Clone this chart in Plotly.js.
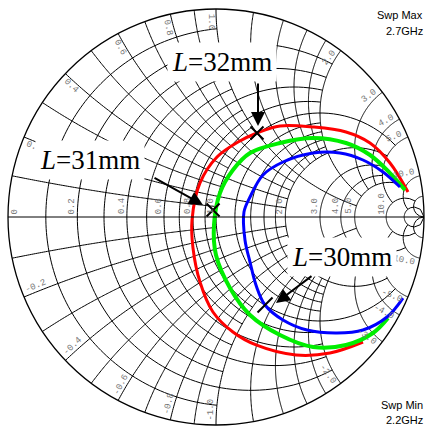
<!DOCTYPE html>
<html><head><meta charset="utf-8">
<script src="https://cdn.plot.ly/plotly-3.0.1.min.js"></script>
<style>html,body{margin:0;padding:0;background:#fff;}</style>
</head><body>
<div id="chart" style="width:427px;height:430px;"></div>
<script>
// ---- data (normalized impedance), sweep 2.2 -> 2.7 GHz
const redReal  = [0.312,0.431,0.503,0.567,0.598,0.639,0.713,0.769,0.793,0.815,0.854,0.924,0.988,1.064,1.261,1.438,1.676,2.474,6.56];
const redImag  = [-2.688,-2.070,-1.620,-1.194,-0.962,-0.738,-0.497,-0.237,-0.023,0.276,0.537,0.776,1.000,1.305,1.833,2.657,3.668,5.52,11.81];
const greenReal = [0.302,0.321,0.444,0.580,0.728,0.815,0.891,0.935,0.978,1.011,1.053,1.106,1.285,1.487,1.807,2.322,3.58,6.25];
const greenImag = [-3.654,-3.006,-2.370,-1.851,-1.416,-1.022,-0.692,-0.354,-0.075,0.237,0.505,0.775,1.174,1.770,2.663,3.814,5.92,10.31];
const blueReal = [0.248,0.354,0.539,0.721,0.839,0.924,1.003,1.127,1.241,1.286,1.309,1.360,1.419,1.561,1.812,2.133,2.641,3.605,5.77];
const blueImag = [-4.81,-3.660,-2.850,-2.295,-1.777,-1.405,-1.109,-0.861,-0.580,-0.294,0.064,0.271,0.631,0.999,1.622,2.387,3.402,5.05,8.46];
// marked points
const xMarkReal = [0.988, 0.970];   // L=32mm (red), L=31mm (green)
const xMarkImag = [1.000, 0.065];
const tickMarkReal = [1.003];       // L=30mm (blue)
const tickMarkImag = [-1.109];
// labels
const curveLabels = ['<i>L</i>=32mm', '<i>L</i>=31mm', '<i>L</i>=30mm'];
const sweepMax = ['Swp Max', '2.7GHz'];
const sweepMin = ['Swp Min', '2.2GHz'];
// grid values
const rGridVals = [0.1,0.2,0.3,0.4,0.5,0.6,0.7,0.8,0.9,1.0,1.2,1.4,1.6,1.8,2.0,3.0,4.0,5.0,10,20];
const rGridSpan = [1,2,1,2,1,2,1,2,1,5,2,2,2,2,5,5,5,10,20,1e4];
const xGridVals = [0.1,0.2,0.3,0.4,0.5,0.6,0.7,0.8,0.9,1.0,1.2,1.4,1.6,1.8,2.0,3.0,4.0,5.0,10,20];
const xGridSpan = [1,2,1,2,1,2,1,2,1,5,2,2,2,2,5,5,5,10,20,1e4];
const rTickVals = [0,0.2,0.4,0.6,0.8,1.0,2.0,3.0,4.0,5.0,10.0];
const rTickText = ['0','0.2','0.4','0.6','0.8','1.0','2.0','3.0','4.0','5.0','10.0'];
const xTickVals = [0.2,0.4,0.6,0.8,1.0,2.0,3.0,4.0,5.0,10.0,-0.2,-0.4,-0.6,-0.8,-1.0,-2.0,-3.0,-4.0,-5.0,-10.0];
const xTickText = ['0.2','0.4','0.6','0.8','1.0','2.0','3.0','4.0','5.0','10.0','-0.2','-0.4','-0.6','-0.8','-1.0','-2.0','-3.0','-4.0','-5.0','-10.0'];

// ---- layout geometry
const W = 427, H = 430;
const CX = 216, CY = 217, RAD = 208;
const px = v => v / W, py = v => 1 - v / H;

// grid lines (constant resistance / reactance), sampled through the smith mapping
const gRe = [], gIm = [];
const N = 140;
rGridVals.forEach((r, i) => {
  const a = Math.atan(rGridSpan[i]);
  for (let k = 0; k <= N; k++) { gRe.push(r); gIm.push(Math.tan(-a + 2 * a * k / N)); }
  gRe.push(null); gIm.push(null);
});
xGridVals.forEach((x, i) => {
  const a = Math.atan(xGridSpan[i]);
  [1, -1].forEach(s => {
    for (let k = 0; k <= N; k++) { gRe.push(Math.tan(a * k / N)); gIm.push(s * x); }
    gRe.push(null); gIm.push(null);
  });
});

const traces = [
  {type:'scattersmith', real:gRe, imag:gIm, mode:'lines', line:{color:'#000', width:1}, hoverinfo:'skip', connectgaps:false},
  {type:'scattersmith', real:redReal, imag:redImag, mode:'lines', line:{color:'#ff0000', width:3, shape:'spline', smoothing:1}},
  {type:'scattersmith', real:greenReal, imag:greenImag, mode:'lines', line:{color:'#00ee00', width:4, shape:'spline', smoothing:1}},
  {type:'scattersmith', real:blueReal, imag:blueImag, mode:'lines', line:{color:'#0000ff', width:3, shape:'spline', smoothing:1}},
  {type:'scattersmith', real:xMarkReal, imag:xMarkImag, mode:'markers', marker:{symbol:'x-thin', size:13, color:'#000', line:{width:2, color:'#000'}}},
  {type:'scattersmith', real:tickMarkReal, imag:tickMarkImag, mode:'markers', marker:{symbol:'line-ne', size:15, color:'#000', line:{width:2, color:'#000'}}}
];

const ann = [];
const lblFont = {family:'Liberation Mono, DejaVu Sans Mono, monospace', size:9, color:'#777'};
const CW = 5.2;
// real-axis labels
rTickVals.forEach((v, i) => {
  const g = (v - 1) / (v + 1);
  const len = rTickText[i].length * CW;
  let x = CX + RAD * g - 5;
  if (v === 0) x = CX - RAD + 7;
  ann.push({xref:'paper', yref:'paper', x:px(x), y:py(CY - 3 - len / 2), text:rTickText[i], showarrow:false,
    textangle:-90, font:lblFont, xanchor:'center', yanchor:'middle'});
});
// reactance labels round the edge
xTickVals.forEach((v, i) => {
  const th = (v > 0 ? 1 : -1) * (Math.PI - 2 * Math.atan(Math.abs(v)));
  const len = xTickText[i].length * CW;
  const rc = RAD - 5 - len / 2;
  const th2 = th + (v > 0 ? 1 : -1) * (5 / rc);
  const x = CX + rc * Math.cos(th2), y = CY - rc * Math.sin(th2);
  const deg = th * 180 / Math.PI;
  let ang = Math.abs(deg) < 89 ? -deg : -(deg + 180);
  while (ang > 180) ang -= 360; while (ang <= -180) ang += 360;
  ann.push({xref:'paper', yref:'paper', x:px(x), y:py(y), text:xTickText[i], showarrow:false,
    textangle:ang, font:lblFont, xanchor:'center', yanchor:'middle'});
});
// curve labels and arrows
const bigFont = {family:'Liberation Serif, Times New Roman, serif', size:27, color:'#000'};
[[222,62],[90,160],[342,257]].forEach((p, i) => {
  ann.push({xref:'paper', yref:'paper', x:px(p[0]), y:py(p[1]), text:curveLabels[i], showarrow:false, font:bigFont,
    xanchor:'center', yanchor:'middle', bgcolor:'#fff', borderpad:4});
});
[[258,126,0,-44],[203,205,-50,-28],[276,303,37,-28]].forEach(a => {
  ann.push({xref:'paper', yref:'paper', x:px(a[0]), y:py(a[1]), ax:a[2], ay:a[3], text:'', showarrow:true,
    arrowhead:2, arrowsize:1.4, arrowwidth:2, arrowcolor:'#000', standoff:0});
});
const swpFont = {family:'Liberation Sans, Arial, sans-serif', size:11, color:'#000'};
[[sweepMax[0],15],[sweepMax[1],31],[sweepMin[0],405],[sweepMin[1],420]].forEach(s => {
  ann.push({xref:'paper', yref:'paper', x:px(425), y:py(s[1]), text:s[0], showarrow:false, font:swpFont, xanchor:'right', yanchor:'middle'});
});

const layout = {
  width:W, height:H, margin:{l:0,r:0,t:0,b:0}, showlegend:false,
  paper_bgcolor:'#fff',
  smith:{
    domain:{x:[(CX-RAD)/W,(CX+RAD)/W], y:[1-(CY+RAD)/H, 1-(CY-RAD)/H]},
    bgcolor:'#fff',
    realaxis:{showgrid:false, showticklabels:false, ticks:'', showline:true, linecolor:'#000', linewidth:1},
    imaginaryaxis:{showgrid:false, showticklabels:false, ticks:'', showline:true, linecolor:'#000', linewidth:1.3}
  },
  annotations:ann
};
Plotly.newPlot('chart', traces, layout, {staticPlot:true, displayModeBar:false});
</script>
</body></html>
